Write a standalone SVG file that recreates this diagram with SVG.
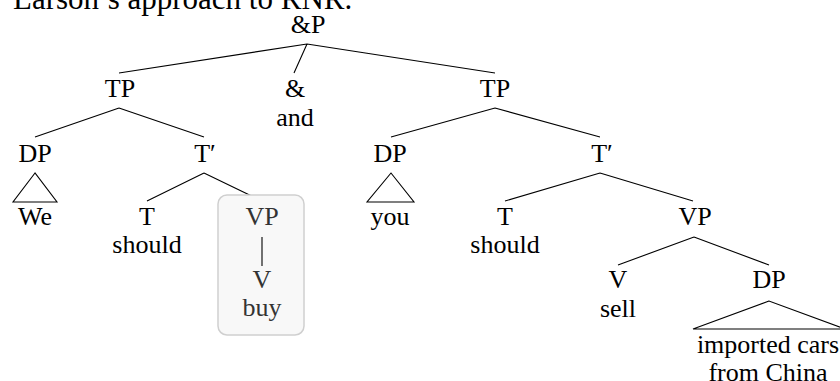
<svg xmlns="http://www.w3.org/2000/svg" width="840" height="381" viewBox="0 0 840 381">
<style>
text{font-family:"Liberation Serif","Times New Roman",serif;font-size:26px;fill:#000;text-anchor:middle}
.title{font-size:31px;text-anchor:start}
.boxed text{fill:#333}
.e{stroke:#000;stroke-width:1.1;fill:none}
.box{fill:#f8f8f8;stroke:#cfcfcf;stroke-width:1.5}
</style>
<rect width="840" height="381" fill="#fff"/>
<text class="title" x="13" y="9">Larson’s approach to RNR.</text>
<g id="connectors" class="e">
<path d="M307,44L119,73M307,44L294,73M307,44L495,73"/>
<path d="M119,108L35,137M119,108L204,137"/>
<path d="M495,108L391,137M495,108L600,137"/>
<path d="M204,173L147,201M204,173L262,201"/>
<path d="M600,173L505,201M600,173L693,201"/>
<path d="M694,237L618,265M694,237L769,265"/>
<path d="M35,173L13,202L57,202Z"/>
<path d="M391,173L367,202L414,202Z"/>
<path d="M769,301L693,329L845,329Z"/>
</g>
<g id="andP"><text x="308" y="33">&amp;P</text></g>
<g id="TP1"><text x="120" y="97">TP</text></g>
<g id="amp"><text x="295" y="97">&amp;</text><text x="295" y="126">and</text></g>
<g id="TP2"><text x="495" y="97">TP</text></g>
<g id="DP1"><text x="35" y="162">DP</text><text x="35" y="225">We</text></g>
<g id="Tbar1"><text x="205" y="162">T′</text></g>
<g id="T1"><text x="147" y="225">T</text><text x="147" y="253">should</text></g>
<g id="VP1" class="boxed">
<rect class="box" x="218" y="195" width="86" height="140" rx="9"/>
<text x="262" y="225">VP</text>
<line class="e" x1="262" y1="237" x2="262" y2="266"/>
<text x="262" y="288">V</text>
<text x="262" y="316">buy</text>
</g>
<g id="DP2"><text x="390" y="162">DP</text><text x="390" y="225">you</text></g>
<g id="Tbar2"><text x="602" y="162">T′</text></g>
<g id="T2"><text x="505" y="225">T</text><text x="505" y="253">should</text></g>
<g id="VP2"><text x="695" y="225">VP</text></g>
<g id="V2"><text x="618" y="288">V</text><text x="618" y="317">sell</text></g>
<g id="DP3"><text x="769" y="288">DP</text><text x="768" y="353">imported cars</text><text x="768" y="381">from China</text></g>
</svg>
